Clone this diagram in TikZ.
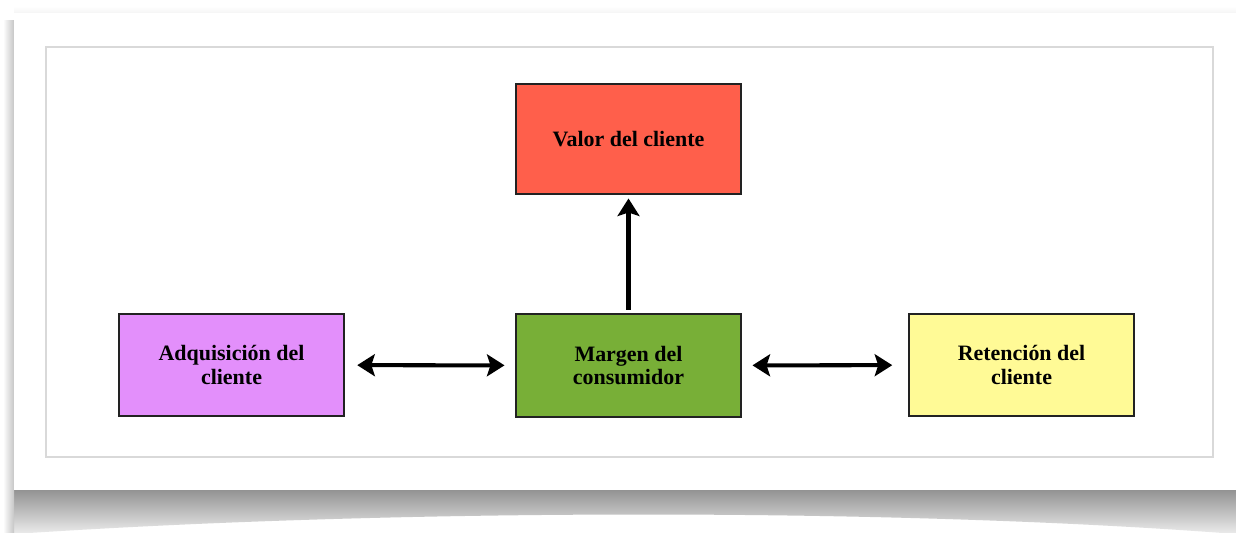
\documentclass[tikz,border=0pt]{standalone}
\usepackage{fontspec}
\setmainfont{Liberation Serif}
\usetikzlibrary{arrows.meta}

\definecolor{valorred}{HTML}{FF5F4B}
\definecolor{adqviolet}{HTML}{E38FFB}
\definecolor{margreen}{HTML}{78AF37}
\definecolor{retyellow}{HTML}{FFFA96}
\definecolor{boxline}{HTML}{222222}

\begin{document}
\begin{tikzpicture}[x=0.02cm, y=-0.02cm,
		caja/.style={draw=boxline, line width=1.1pt, minimum width=4.5cm, minimum height=2.04cm, align=center, font=\fontsize{12.5}{13.5}\selectfont\bfseries},
		flecha/.style={line width=2.3pt, -{Stealth[length=10pt, width=12.5pt, inset=2pt]}},
		doble/.style={line width=2.3pt, {Stealth[length=10pt, width=12.5pt, inset=2pt]}-{Stealth[length=10pt, width=12.5pt, inset=2pt]}}]
		\useasboundingbox (0,0) rectangle (1236,532);
		\fill[white] (0,0) rectangle (1236,532);
		\shade[top color=gray!85, bottom color=gray!15] (14,490) -- (1236,490) -- (1236,534) .. controls (900,508) and (400,508) .. (14,534) -- cycle;
		\shade[left color=white, right color=gray!45] (3,20) rectangle (14,534);
		\shade[top color=white, bottom color=gray!8] (14,6) rectangle (1236,13);
		\fill[white] (14,13) rectangle (1236,490);
		\draw[gray!30, line width=0.8pt] (46,47) rectangle (1213,457);

		\node[caja, fill=valorred, minimum height=2.2cm] (valor) at (628.5,139) {Valor del cliente};
		\node[caja, fill=margreen, minimum height=2.06cm] (margen) at (628.5,365.5) {Margen del\\consumidor};
		\node[caja, fill=adqviolet] (adq) at (231.5,365) {Adquisición del\\cliente};
		\node[caja, fill=retyellow] (ret) at (1021.5,365) {Retención del\\cliente};

		\draw[flecha, shorten <=2pt, shorten >=2pt] (margen) -- (valor);
		\draw[doble, shorten <=7pt, shorten >=6pt] (adq) -- (margen);
		\draw[doble, shorten <=6pt, shorten >=9pt] (margen) -- (ret);
	\end{tikzpicture}
\end{document}
